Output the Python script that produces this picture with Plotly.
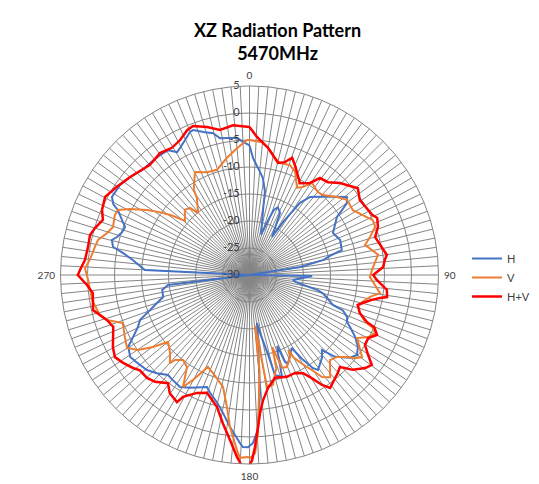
import plotly.graph_objects as go

# ---- data (angle in degrees, clockwise from top; level in dB) ----
H_theta = [0, 1.7, 5.8, 7.9, 10.5, 11.5, 13.5, 16, 19, 20.4, 22.7, 26.2, 30.6, 32.3, 35, 37.8, 42.1, 45.9,
           51.3, 53.6, 56.5, 63.3, 68.9, 74.9, 76.5, 78.5, 81, 85, 90.9, 96.6, 98.5, 101, 102.5, 104, 106.5,
           109.8, 110.8, 113.3, 115.7, 117.4, 120.4, 123.6, 126.7, 129.5, 133.8, 136, 138.5, 144.2, 145.7,
           148, 150, 153.7, 156.4, 157.8, 158.6, 160, 162.3, 165.7, 167, 169.7, 171.1, 172.9, 174.9, 176.9,
           178.8, 180.5, 182.2, 183.2, 187.3, 190.9, 194.2, 198.5, 200.8, 207.8, 211.8, 216.1, 219.2, 223.3,
           227.2, 232, 235.5, 239.4, 242, 245, 247.7, 249.7, 253.2, 255.7, 260.3, 263, 267, 272.7, 277.3,
           279.9, 281.6, 284.3, 286, 288.6, 291.1, 293.3, 296.3, 297.4, 299.6, 304.8, 309.4, 314.3, 318.4,
           323.3, 326.9, 329.5, 331.3, 334.5, 337.4, 338.7, 342.7, 345.6, 347.8, 354.8, 357.2]
H_r = [-6.0, -8.3, -10.8, -11.9, -14.3, -17.2, -20.1, -22.2, -19.1, -17.2, -16.4, -17.2, -21.8, -18.4, -13.7,
       -11.7, -10.5, -9.2, -6.9, -7.6, -10.6, -12.7, -12.0, -12.3, -14.6, -16.0, -20.5, -30, -18.4, -21.9,
       -21.4, -19.2, -17.1, -16.0, -15.0, -13.6, -11.5, -10.3, -10.0, -9.0, -7.3, -5.9, -5.2, -5.9, -8.1,
       -10.7, -9.7, -8.3, -9.1, -11.7, -14.4, -13.1, -12.2, -12.6, -15.9, -14.6, -10.2, -10.9, -15.1,
       -19.1, -21.0, -17.3, -8.1, -1.3, 1.1, 1.9, 1.9, 1.2, -1.6, -4.0, -5.6, -7.0, -7.8, -6.4, -5.6, -5.9,
       -6.1, -5.0, -4.1, -3.6, -3.2, -3.9, -5.6, -7.2, -8.1, -9.8, -12.1, -13.5, -13.6, -14.8, -30, -10.6,
       -8.2, -6.2, -4.2, -3.7, -4.5, -5.1, -5.3, -4.3, -2.8, -1.6, -0.7, -0.8, -1.4, -2.2, -2.3, -2.3, -2.4,
       -3.6, -3.2, -2.3, -1.3, -1.2, -2.3, -2.9, -4.1, -4.5, -5.3]

V_theta = [0, 5.4, 8.3, 12.3, 15.2, 20.2, 23.8, 28.6, 31.3, 34.2, 39.5, 42.6, 48.3, 52.4, 57.9, 64.3, 66,
           69.1, 72.5, 75.4, 81, 87.7, 91, 94.6, 97.9, 100.3, 105.5, 109, 112.1, 113, 114.8, 117.6, 120.4,
           126.1, 128.2, 130, 133.1, 136.6, 141.7, 144.6, 146.7, 149.8, 152, 152.5, 153.7, 157.8, 160.7,
           162.5, 164, 165.4, 167.9, 171.1, 173.7, 174, 176.9, 178.2, 179.8, 180.5, 183, 184.1, 187.3,
           189.7, 193.3, 200.4, 204.3, 208.3, 210.7, 214.2, 218, 221.2, 222.1, 225.5, 230.6, 233.3, 236.1,
           239.2, 243.5, 249.2, 252.5, 255, 261, 268.2, 272.4, 275.4, 280.3, 283, 286.4, 289.4, 294, 296.3,
           298.9, 302.4, 305, 307.5, 310, 315.2, 318.4, 320.3, 325.7, 326.9, 332.1, 337.6, 342.8, 349.1,
           354.4, 358.9]
V_r = [-5.0, -5.3, -6.2, -7.8, -8.5, -8.3, -9.1, -11.6, -10.9, -9.4, -10.1, -9.9, -8.3, -7.2, -7.4, -5.6,
       -5.0, -5.1, -6.6, -7.9, -5.9, -7.3, -7.7, -6.7, -5.6, -7.3, -9.2, -8.4, -6.9, -5.3, -4.4, -5.2, -6.9,
       -4.2, -5.1, -6.4, -7.8, -8.3, -5.9, -6.8, -8.9, -11.2, -12.8, -14.4, -13.1, -11.6, -11.8, -16.0,
       -12.0, -11.2, -9.2, -9.0, -20.5, -12.3, -0.7, 3.0, 3.9, 3.7, 3.9, 2.5, -1.6, -5.2, -8.7, -10.6,
       -11.3, -7.9, -5.9, -9.4, -10.0, -9.1, -8.0, -9.4, -10.5, -7.7, -5.1, -3.6, -4.2, -4.9, -2.3, -1.3,
       -0.5, -0.1, 0.5, -0.3, -0.9, -1.2, -2.5, -3.2, -2.7, -2.8, -4.7, -7.5, -9.7, -11.9, -14.4, -13.0,
       -13.4, -15.1, -12.7, -11.1, -8.4, -9.4, -9.6, -7.9, -6.4, -5.0]

HV_theta = [0, 3.1, 8.3, 14.3, 17.4, 20, 22.5, 28.8, 33.3, 36, 40.2, 44.5, 51.3, 55.8, 63.9, 65.9, 69.5,
            73.2, 81.7, 83.7, 86.6, 90, 92.2, 96.2, 99.1, 100, 101.5, 103.9, 105.5, 109, 111.8, 112.8,
            115.2, 118, 121.2, 124, 126.3, 128.8, 132.5, 135.5, 137.9, 144.5, 146.6, 149.3, 151.4, 155.1,
            159.8, 166.1, 170.7, 173.8, 175.6, 176.8, 178.2, 179.2, 180.4, 181.9, 183.9, 186.7, 190.2,
            193.8, 199.8, 204, 208.6, 209.7, 214, 217, 221.5, 224.9, 229, 231.4, 235.2, 238.6, 242.2,
            249.1, 252.5, 257.4, 263.4, 266.5, 270, 271.7, 275.2, 279.8, 284.1, 286.9, 290.6, 293.8,
            298.4, 303.6, 309.4, 317.9, 323.7, 328.6, 332.8, 336.7, 339.2, 344, 348.5, 353.7]
HV_r = [-2.6, -4.4, -6.2, -8.6, -8.1, -6.9, -8.0, -10.6, -9.6, -7.8, -7.5, -6.1, -4.3, -5.3, -4.7, -4.1,
        -4.6, -5.7, -4.3, -4.8, -5.2, -7.1, -6.4, -4.4, -4.2, -5.5, -6.9, -8.4, -9.2, -8.4, -6.6, -4.9,
        -3.9, -5.1, -5.0, -3.5, -1.9, -2.5, -4.0, -6.1, -5.6, -4.3, -5.6, -8.0, -9.3, -10.0, -9.9, -10.4,
        -8.8, -6.7, -4.4, -1.8, 1.9, 4.3, 5.7, 5.8, 3.8, 0.8, -2.1, -4.8, -6.8, -6.1, -4.3, -2.9, -3.6,
        -4.9, -3.6, -3.1, -3.1, -2.4, -1.5, -0.8, -1.4, -3.0, -2.3, -0.3, -0.8, 0.15, 1.8, 1.4, 0.6, 0.35,
        0.45, -0.1, -1.0, -0.15, 0.4, -0.5, -1.4, -2.5, -2.0, -2.4, -1.9, -0.8, -0.5, -1.5, -2.6, -2.1]

series = [("H", H_theta, H_r, "#4472C4", 2),
          ("V", V_theta, V_r, "#ED7D31", 2),
          ("H+V", HV_theta, HV_r, "#FF0000", 2.5)]

N_SPOKES = 128
spoke_vals = [i * 360 / N_SPOKES for i in range(N_SPOKES)]
spoke_text = [str(int(v)) if v in (0, 90, 180, 270) else "" for v in spoke_vals]
radial_ticks = [-30, -25, -20, -15, -10, -5, 0, 5]
radial_text = [str(v) for v in radial_ticks]

# page body has an 8px margin; size the figure so it fits the 539x484 window
W, H = 531, 476
OFF = 8
def px(x):
    return (x - OFF) / W
def py(y):
    return 1 - (y - OFF) / H

CX, CY, R = 249.5, 275, 189
GRID = "#858585"

fig = go.Figure()
for name, th, rr, col, w in series:
    fig.add_trace(go.Scatterpolar(
        r=list(rr) + [rr[0]], theta=list(th) + [th[0]], mode="lines", name=name,
        line=dict(color=col, width=w), cliponaxis=False))

# radial tick labels, horizontal, to the left of the 0-degree spoke
fig.add_trace(go.Scatterpolar(
    r=radial_ticks, theta=[0] * len(radial_ticks), mode="markers+text",
    text=radial_text, textposition="middle left",
    textfont=dict(size=11, color="#404040"),
    marker=dict(size=14, color="rgba(0,0,0,0)"), showlegend=False,
    hoverinfo="skip", cliponaxis=False))

fig.update_layout(
    width=W, height=H,
    margin=dict(l=0, r=0, t=0, b=0),
    paper_bgcolor="white",
    font=dict(family="Lato, 'Open Sans', sans-serif", color="#404040"),
    annotations=[dict(text="<b>XZ Radiation Pattern</b><br><b>5470MHz</b>", xref="paper", yref="paper",
                      x=px(277.5), y=py(17), xanchor="center", yanchor="top", showarrow=False,
                      font=dict(size=18, color="#000000"))],
    polar=dict(
        domain=dict(x=[px(CX - R), px(CX + R)], y=[py(CY + R), py(CY - R)]),
        bgcolor="white",
        angularaxis=dict(rotation=90, direction="clockwise", tickmode="array",
                         tickvals=spoke_vals, ticktext=spoke_text,
                         ticks="outside", ticklen=3, tickcolor="rgba(0,0,0,0)",
                         showgrid=True, gridcolor=GRID, gridwidth=1,
                         showline=True, linecolor=GRID, linewidth=1,
                         tickfont=dict(size=10, color="#404040")),
        radialaxis=dict(range=[-30, 5], tickmode="array", tickvals=radial_ticks,
                        angle=90, showticklabels=False,
                        showline=False, ticks="", showgrid=True, gridcolor=GRID,
                        gridwidth=1),
    ),
    legend=dict(x=px(467), y=py(244), xanchor="left", yanchor="top",
                font=dict(size=11, color="#404040"), bgcolor="rgba(0,0,0,0)"),
    showlegend=True,
)

fig.write_html("out.html")
